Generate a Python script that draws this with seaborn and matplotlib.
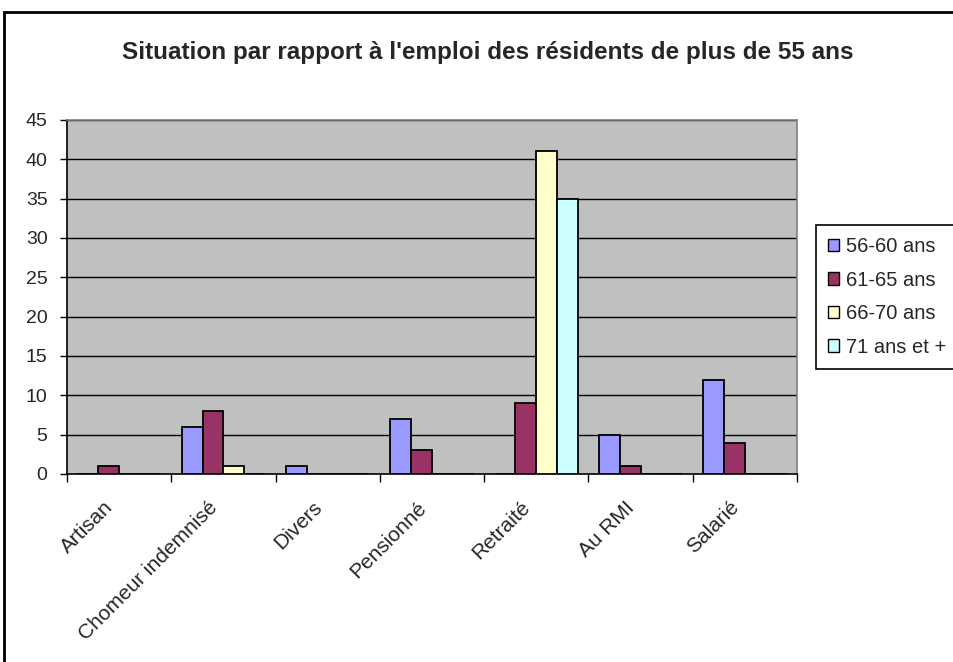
import numpy as np
import pandas as pd
import matplotlib
matplotlib.use('Agg')
import matplotlib.pyplot as plt
import matplotlib.transforms as mtransforms
from matplotlib.patches import Rectangle
import seaborn as sns

# ── data ────────────────────────────────────────────────────────────────────
situations = ['Artisan', 'Chomeur indemnisé', 'Divers', 'Pensionné',
              'Retraité', 'Au RMI', 'Salarié']
age_groups = ['56-60 ans', '61-65 ans', '66-70 ans', '71 ans et +']
v_56_60 = [0, 6, 1, 7, 0, 5, 12]
v_61_65 = [1, 8, 0, 3, 9, 1, 4]
v_66_70 = [0, 1, 0, 0, 41, 0, 0]
v_71_plus = [0, 0, 0, 0, 35, 0, 0]
y_ticks = [0, 5, 10, 15, 20, 25, 30, 35, 40, 45]
colors = ['#9999FF', '#993366', '#FFFFCC', '#CCFFFF']

rows = []
for age, vals in zip(age_groups, [v_56_60, v_61_65, v_66_70, v_71_plus]):
    for sit, v in zip(situations, vals):
        rows.append({'situation': sit, 'age': age, 'count': v})
df = pd.DataFrame(rows)

sns.set_style('white')
plt.rcParams['font.family'] = ['Liberation Sans', 'DejaVu Sans']

W, H = 954, 662
fig = plt.figure(figsize=(W / 100, H / 100), dpi=100)
ax = fig.add_axes([67 / W, 1 - 474 / H, (797 - 67) / W, (474 - 120) / H])
ax.set_facecolor('#C0C0C0')

sns.barplot(data=df, x='situation', y='count', hue='age', order=situations,
            hue_order=age_groups, palette=colors, saturation=1, width=0.8,
            edgecolor='black', linewidth=1.3, ax=ax, legend=False, zorder=3)

ax.set_ylim(0, 45)
ax.set_xlim(-0.5, len(situations) - 0.5)
ax.set_yticks(y_ticks)
ax.set_yticklabels([str(t) for t in y_ticks], fontsize=14)
for t in y_ticks[1:]:
    ax.axhline(t, color='black', linewidth=1, zorder=1)
ax.set_xlabel('')
ax.set_ylabel('')

# category labels, rotated like the Excel original
ax.set_xticks(range(len(situations)))
ax.set_xticklabels(situations, rotation=45, ha='right', va='center',
                   rotation_mode='anchor', fontsize=15)
ax.tick_params(axis='x', which='major', length=0, pad=22)
shift = mtransforms.ScaledTranslation(-9 / 100, 0, fig.dpi_scale_trans)
for lbl in ax.get_xticklabels():
    lbl.set_transform(lbl.get_transform() + shift)
ax.set_xticks(np.arange(-0.5, len(situations)), minor=True)
ax.tick_params(axis='x', which='minor', length=6, width=1, color='black',
               direction='out', bottom=True)
ax.tick_params(axis='y', length=5, width=1, color='black', direction='out',
               left=True, pad=9)

for side in ['top', 'right']:
    ax.spines[side].set_color('#808080')
    ax.spines[side].set_linewidth(1.2)
for side in ['left', 'bottom']:
    ax.spines[side].set_color('black')
    ax.spines[side].set_linewidth(1.2)

fig.text(488 / W, 1 - 52 / H,
         "Situation par rapport à l'emploi des résidents de plus de 55 ans",
         ha='center', va='center', fontsize=17.5, fontweight='bold')

handles = [Rectangle((0, 0), 1, 1, facecolor=c, edgecolor='black', linewidth=1)
           for c in colors]
leg = fig.legend(handles, age_groups, loc='upper left',
                 bbox_to_anchor=(816 / W, 1 - 225 / H), fontsize=14.5,
                 handlelength=0.55, handleheight=0.55, handletextpad=0.35,
                 labelspacing=0.72, borderpad=0.6, borderaxespad=0,
                 fancybox=False, frameon=True, edgecolor='black',
                 framealpha=1)
leg.get_frame().set_linewidth(1.2)

# outer chart frame
fig.patches.append(Rectangle((4 / W, -0.05), 1.1, 1 - 12 / H + 0.05,
                             transform=fig.transFigure, fill=False,
                             edgecolor='black', linewidth=2))

fig.savefig('out.png', dpi=100)
